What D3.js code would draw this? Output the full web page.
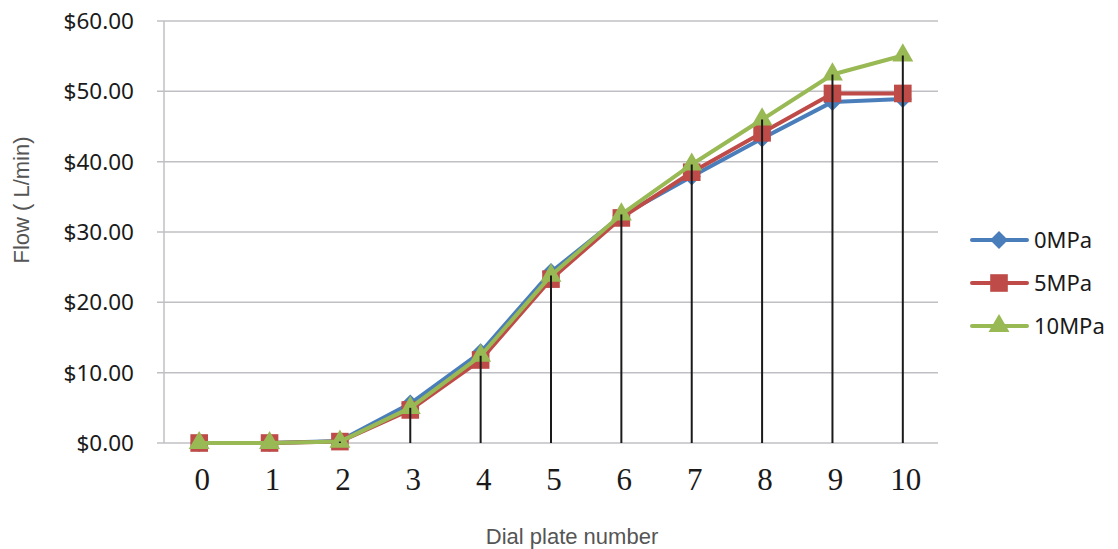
<!DOCTYPE html>
<html>
<head>
<meta charset="utf-8">
<script src="https://cdn.jsdelivr.net/npm/d3@7/dist/d3.min.js"></script>
<style>
  body { margin: 0; background: #fff; }
  .grid line { stroke: #c0c0c4; stroke-width: 1.5px; }
  .ylab { font-family: "Noto Sans", sans-serif; font-size: 22.5px; fill: #1a1a1a; }
  .xlab { font-family: "Liberation Serif", serif; font-size: 31px; fill: #1a1a1a; }
  .title { font-family: "Liberation Sans Narrow", "Liberation Sans", sans-serif; font-size: 22px; fill: #555; }
  .legend text { font-family: "Noto Sans", sans-serif; font-size: 22px; fill: #1a1a1a; }
  .drop { stroke: #1a1a1a; stroke-width: 2px; }
</style>
</head>
<body>
<script>
  let categories = ['0', '1', '2', '3', '4', '5', '6', '7', '8', '9', '10'];
  let seriesNames = ['0MPa', '5MPa', '10MPa'];
  let flow0 = [0, 0, 0.3, 5.6, 12.9, 24.3, 32.3, 37.9, 43.3, 48.5, 48.9];
  let flow5 = [0, 0, 0.2, 4.7, 11.8, 23.3, 32.0, 38.5, 44.1, 49.7, 49.7];
  let flow10 = [0, 0, 0.2, 5.0, 12.4, 23.8, 32.5, 39.6, 46.0, 52.4, 55.1];
  let yTicks = [0, 10, 20, 30, 40, 50, 60];

  (function() {
    let width = 1118, height = 549;
    let plot = {left: 164, right: 938, top: 21, bottom: 443};

    let svg = d3.select('body').append('svg')
      .attr('width', width)
      .attr('height', height);

    let x = d3.scalePoint()
      .domain(categories)
      .range([plot.left, plot.right])
      .padding(0.5);

    let y = d3.scaleLinear()
      .domain([0, 60])
      .range([plot.bottom, plot.top]);

    // 网格线
    svg.append('g')
      .attr('class', 'grid')
      .selectAll('line')
      .data(yTicks)
      .enter().append('line')
      .attr('x1', plot.left - 7)
      .attr('x2', plot.right)
      .attr('y1', function(d) { return y(d); })
      .attr('y2', function(d) { return y(d); });

    svg.append('line')
      .attr('x1', plot.left).attr('x2', plot.left)
      .attr('y1', plot.top).attr('y2', plot.bottom)
      .attr('stroke', '#c0c0c4')
      .attr('stroke-width', 1.5);

    svg.append('g')
      .selectAll('text')
      .data(yTicks)
      .enter().append('text')
      .attr('class', 'ylab')
      .attr('x', 134)
      .attr('y', function(d) { return y(d); })
      .attr('dy', '0.36em')
      .attr('text-anchor', 'end')
      .text(function(d) { return '$' + d.toFixed(2); });

    svg.append('g')
      .selectAll('text')
      .data(categories)
      .enter().append('text')
      .attr('class', 'xlab')
      .attr('x', function(d) { return x(d) + 3; })
      .attr('y', 490)
      .attr('text-anchor', 'middle')
      .text(function(d) { return d; });

    svg.append('text')
      .attr('class', 'title')
      .attr('x', 572)
      .attr('y', 544)
      .attr('text-anchor', 'middle')
      .text('Dial plate number');

    svg.append('text')
      .attr('class', 'title')
      .attr('transform', 'translate(29,200) rotate(-90)')
      .attr('text-anchor', 'middle')
      .text('Flow ( L/min)');

    let series = [
      {name: seriesNames[0], values: flow0, color: '#4a7ebb', shape: d3.symbolSquare, size: 162, rot: 45},
      {name: seriesNames[1], values: flow5, color: '#be4b48', shape: d3.symbolSquare, size: 310, rot: 0},
      {name: seriesNames[2], values: flow10, color: '#98b954', shape: d3.symbolTriangle, size: 190, rot: 0}
    ];

    let line = d3.line()
      .x(function(d, i) { return x(categories[i]); })
      .y(function(d) { return y(d); });

    series.forEach(function(s) {
      let g = svg.append('g');
      g.append('path')
        .datum(s.values)
        .attr('fill', 'none')
        .attr('stroke', s.color)
        .attr('stroke-width', 4)
        .attr('stroke-linejoin', 'round')
        .attr('d', line);
      g.selectAll('path.mark')
        .data(s.values)
        .enter().append('path')
        .attr('class', 'mark')
        .attr('fill', s.color)
        .attr('transform', function(d, i) {
          return 'translate(' + x(categories[i]) + ',' + y(d) + ') rotate(' + s.rot + ')';
        })
        .attr('d', d3.symbol().type(s.shape).size(s.size));
    });

    // 竖直落线
    svg.append('g')
      .selectAll('line')
      .data(flow10)
      .enter().append('line')
      .attr('class', 'drop')
      .attr('x1', function(d, i) { return x(categories[i]); })
      .attr('x2', function(d, i) { return x(categories[i]); })
      .attr('y1', function(d) { return y(d); })
      .attr('y2', plot.bottom);

    let legend = svg.append('g').attr('class', 'legend');
    series.forEach(function(s, i) {
      let ly = 240 + i * 43;
      legend.append('line')
        .attr('x1', 972).attr('x2', 1027)
        .attr('y1', ly).attr('y2', ly)
        .attr('stroke', s.color)
        .attr('stroke-width', 4)
        .attr('stroke-linecap', 'round');
      legend.append('path')
        .attr('fill', s.color)
        .attr('transform', 'translate(999,' + ly + ') rotate(' + s.rot + ')')
        .attr('d', d3.symbol().type(s.shape).size(s.size));
      legend.append('text')
        .attr('x', 1034)
        .attr('y', ly)
        .attr('dy', '0.36em')
        .text(s.name);
    });
  })();
</script>
</body>
</html>
